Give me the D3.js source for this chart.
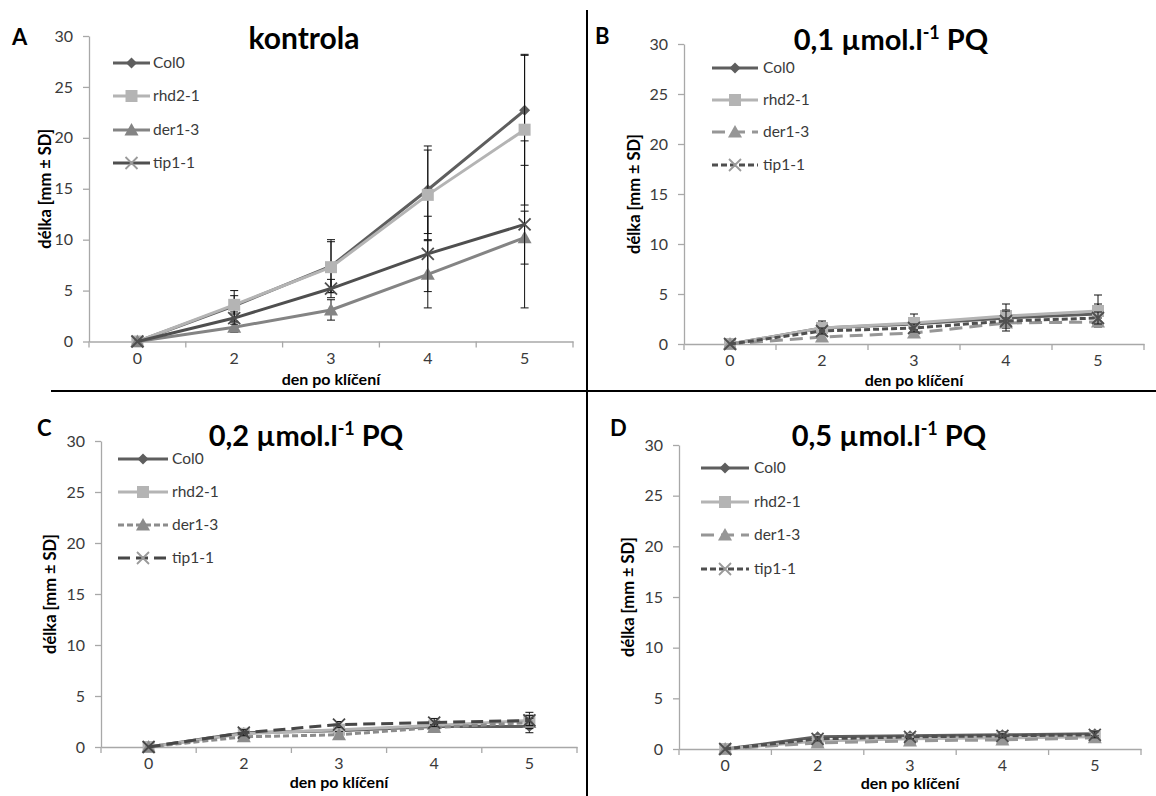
<!DOCTYPE html>
<html>
<head>
<meta charset="utf-8">
<script src="https://cdn.jsdelivr.net/npm/d3@7"></script>
<style>
  body { margin: 0; background: #fff; }
  svg text { font-family: Lato, "Open Sans", sans-serif; }
</style>
</head>
<body>
<script>
/* data: root length per day, four lines, four treatments */
var days = ["0", "2", "3", "4", "5"];
var seriesNames = ["Col0", "rhd2-1", "der1-3", "tip1-1"];
var yTicks = [0, 5, 10, 15, 20, 25, 30];
var panelLetters = ["A", "B", "C", "D"];
var panelDoses = [null, "0,1", "0,2", "0,5"];

// kontrola
var meansA = [[0, 3.5, 7.4, 14.9, 22.7],
              [0, 3.6, 7.3, 14.4, 20.8],
              [0, 1.4, 3.1, 6.6, 10.2],
              [0, 2.3, 5.2, 8.6, 11.5]];
var sdA = [[0, 1.5, 2.6, 4.3, 5.4],
           [0, 0.9, 2.5, 4.4, 7.4],
           [0, 0.5, 1.0, 3.3, 2.6],
           [0, 0.6, 0.9, 3.7, 8.2]];
// 0,1 umol PQ
var meansB = [[0, 1.6, 2.0, 2.6, 3.0],
              [0, 1.6, 2.1, 2.8, 3.3],
              [0, 0.7, 1.1, 2.1, 2.2],
              [0, 1.3, 1.6, 2.3, 2.6]];
var sdB = [[0, 0.4, 0.6, 0.8, 1.0],
           [0, 0.7, 0.9, 1.2, 1.6],
           [0, 0.2, 0.3, 0.5, 0.4],
           [0, 0.3, 0.4, 1.0, 0.6]];
// 0,2 umol PQ
var meansC = [[0, 1.4, 1.6, 2.0, 2.0],
              [0, 1.3, 1.7, 2.1, 2.6],
              [0, 1.0, 1.2, 1.9, 2.4],
              [0, 1.4, 2.2, 2.4, 2.6]];
var sdC = [[0, 0.3, 0.3, 0.4, 0.6],
           [0, 0.4, 0.4, 0.5, 0.8],
           [0, 0.2, 0.3, 0.3, 0.4],
           [0, 0.3, 0.3, 0.4, 0.5]];
// 0,5 umol PQ
var meansD = [[0, 1.2, 1.3, 1.4, 1.5],
              [0, 0.8, 1.0, 1.1, 1.2],
              [0, 0.6, 0.8, 0.9, 1.1],
              [0, 1.0, 1.2, 1.3, 1.4]];
var sdD = [[0, 0.2, 0.2, 0.3, 0.3],
           [0, 0.2, 0.2, 0.2, 0.3],
           [0, 0.1, 0.2, 0.2, 0.2],
           [0, 0.2, 0.2, 0.2, 0.3]];

/* layout + styles, one entry per panel */
var panels = [
  {means: meansA, sd: sdA, x0: 89, x1: 573, yt: 36, yb: 341.5, lx: 12, ly: 45,
   tx: 304, ty: 49, legX0: 113, legX1: 150, legT: 153, legY: [63, 96, 130, 163],
   ylx: 51, xly: 385,
   colors: ["#5e5e5e", "#b4b4b4", "#848484", "#4f4f4f"],
   dash: [null, null, null, null]},
  {means: meansB, sd: sdB, x0: 684, x1: 1144, yt: 44, yb: 344, lx: 595, ly: 44,
   tx: 891, ty: 50, legX0: 712, legX1: 758, legT: 763, legY: [68, 100, 132, 165],
   ylx: 640, xly: 386,
   colors: ["#5e5e5e", "#b4b4b4", "#969696", "#4f4f4f"],
   dash: [null, null, "13,7", "6,3"]},
  {means: meansC, sd: sdC, x0: 101, x1: 577, yt: 441, yb: 747, lx: 37, ly: 436,
   tx: 306, ty: 446, legX0: 118, legX1: 168, legT: 172, legY: [459, 492, 525, 558],
   ylx: 56, xly: 788,
   colors: ["#5e5e5e", "#b4b4b4", "#8c8c8c", "#474747"],
   dash: [null, null, "6,3", "12,6"]},
  {means: meansD, sd: sdD, x0: 679, x1: 1141, yt: 445, yb: 749, lx: 610, ly: 436,
   tx: 889, ty: 446, legX0: 701, legX1: 749, legT: 754, legY: [468, 502, 535, 569],
   ylx: 634, xly: 789,
   colors: ["#5e5e5e", "#b4b4b4", "#969696", "#4f4f4f"],
   dash: [null, null, "13,7", "6,3"]}
];

var svg = d3.select("body").append("svg")
    .attr("width", 1156)
    .attr("height", 796);

/* marker shapes, index matches series */
function markerPath(i) {
    if (i == 0) return "M0,-5.5L5.5,0L0,5.5L-5.5,0Z";
    if (i == 1) return "M-6,-6H6V6H-6Z";
    if (i == 2) return "M0,-7L7,5.5H-7Z";
    return "M-6,-6L6,6M-6,6L6,-6";
}

function drawMarker(g, i, cx, cy, color) {
    var m = g.append("path")
	.attr("d", markerPath(i))
	.attr("transform", "translate(" + cx + "," + cy + ")");
    if (i == 3) {
	m.attr("fill", "none").attr("stroke", color).attr("stroke-width", 1.8);
    } else {
	m.attr("fill", color).attr("stroke", "none");
    }
}

function drawPanel(p, k) {
    var g = svg.append("g");
    var x = d3.scaleBand().domain(days).range([p.x0, p.x1]);
    var y = d3.scaleLinear().domain([0, 30]).range([p.yb, p.yt]);
    var bw = x.bandwidth();

    var ya = g.append("g")
	.attr("transform", "translate(" + p.x0 + ",0)")
	.call(d3.axisLeft(y).tickValues(yTicks).tickSize(6).tickSizeOuter(0).tickPadding(10));
    var xa = g.append("g")
	.attr("transform", "translate(0," + p.yb + ")")
	.call(d3.axisBottom(x).tickSize(0).tickSizeOuter(0).tickPadding(11));
    [ya, xa].forEach(function(a){
	a.attr("font-family", null).attr("font-size", null);
	a.select(".domain").attr("stroke", "#a8a8a8").attr("stroke-width", 1.3);
	a.selectAll(".tick line").attr("stroke", "#a8a8a8").attr("stroke-width", 1.3);
	a.selectAll(".tick text").attr("fill", "#3a3a3a").style("font-size", "16px");
    });

    // category boundary ticks
    var bounds = days.map(function(d){ return x(d); }).concat([x(days[days.length - 1]) + bw]);
    g.selectAll(".btick").data(bounds).enter().append("line")
	.attr("x1", function(d){ return d; })
	.attr("x2", function(d){ return d; })
	.attr("y1", p.yb)
	.attr("y2", p.yb + 6)
	.attr("stroke", "#a8a8a8")
	.attr("stroke-width", 1.3);

    var line = d3.line()
	.x(function(d, j){ return x(days[j]) + bw / 2; })
	.y(function(d){ return y(d); });

    p.means.forEach(function(ser, i){
	var col = p.colors[i];
	g.append("path")
	    .attr("d", line(ser))
	    .attr("fill", "none")
	    .attr("stroke", col)
	    .attr("stroke-width", 3)
	    .attr("stroke-dasharray", p.dash[i]);
	// error bars
	ser.forEach(function(v, j){
	    var s = p.sd[i][j];
	    if (!s) return;
	    var cx = x(days[j]) + bw / 2;
	    var eb = g.append("g").attr("stroke", "#111").attr("stroke-width", 1);
	    eb.append("line").attr("x1", cx).attr("x2", cx)
		.attr("y1", y(v + s)).attr("y2", y(v - s));
	    [v + s, v - s].forEach(function(e){
		eb.append("line").attr("x1", cx - 4).attr("x2", cx + 4)
		    .attr("y1", y(e)).attr("y2", y(e));
	    });
	});
	ser.forEach(function(v, j){
	    drawMarker(g, i, x(days[j]) + bw / 2, y(v), col);
	});
    });

    // legend
    seriesNames.forEach(function(name, i){
	var ly = p.legY[i];
	g.append("line")
	    .attr("x1", p.legX0).attr("x2", p.legX1)
	    .attr("y1", ly).attr("y2", ly)
	    .attr("stroke", p.colors[i])
	    .attr("stroke-width", 3)
	    .attr("stroke-dasharray", p.dash[i]);
	drawMarker(g, i, (p.legX0 + p.legX1) / 2, ly, i == 3 ? "#9a9a9a" : p.colors[i]);
	g.append("text")
	    .attr("x", p.legT).attr("y", ly + 5)
	    .attr("fill", "#3a3a3a")
	    .style("font-size", "15.5px")
	    .text(name);
    });

    // panel letter
    g.append("text")
	.attr("x", p.lx).attr("y", p.ly)
	.style("font-size", "22px").style("font-weight", "bold")
	.text(panelLetters[k]);

    // title
    var t = g.append("text")
	.attr("x", p.tx).attr("y", p.ty)
	.attr("text-anchor", "middle")
	.style("font-size", "29px").style("font-weight", "bold");
    if (panelDoses[k] == null) {
	t.style("font-size", "30px").text("kontrola");
    } else {
	t.append("tspan").text(panelDoses[k] + " µmol.l");
	t.append("tspan").attr("dy", -11).style("font-size", "18px").text("-1");
	t.append("tspan").attr("dy", 11).text(" PQ");
    }

    // axis titles
    g.append("text")
	.attr("transform", "translate(" + p.ylx + "," + ((p.yt + p.yb) / 2) + ") rotate(-90)")
	.attr("text-anchor", "middle")
	.style("font-size", "16.5px").style("font-weight", "bold")
	.text("délka [mm ± SD]");
    g.append("text")
	.attr("x", (p.x0 + p.x1) / 2).attr("y", p.xly)
	.attr("text-anchor", "middle")
	.style("font-size", "16px").style("font-weight", "bold")
	.text("den po klíčení");
}

panels.forEach(drawPanel);

// panel separators
svg.append("line").attr("x1", 587).attr("x2", 587).attr("y1", 10).attr("y2", 796)
    .attr("stroke", "#000").attr("stroke-width", 2);
svg.append("line").attr("x1", 51).attr("x2", 1156).attr("y1", 391).attr("y2", 391)
    .attr("stroke", "#000").attr("stroke-width", 2);
</script>
</body>
</html>
